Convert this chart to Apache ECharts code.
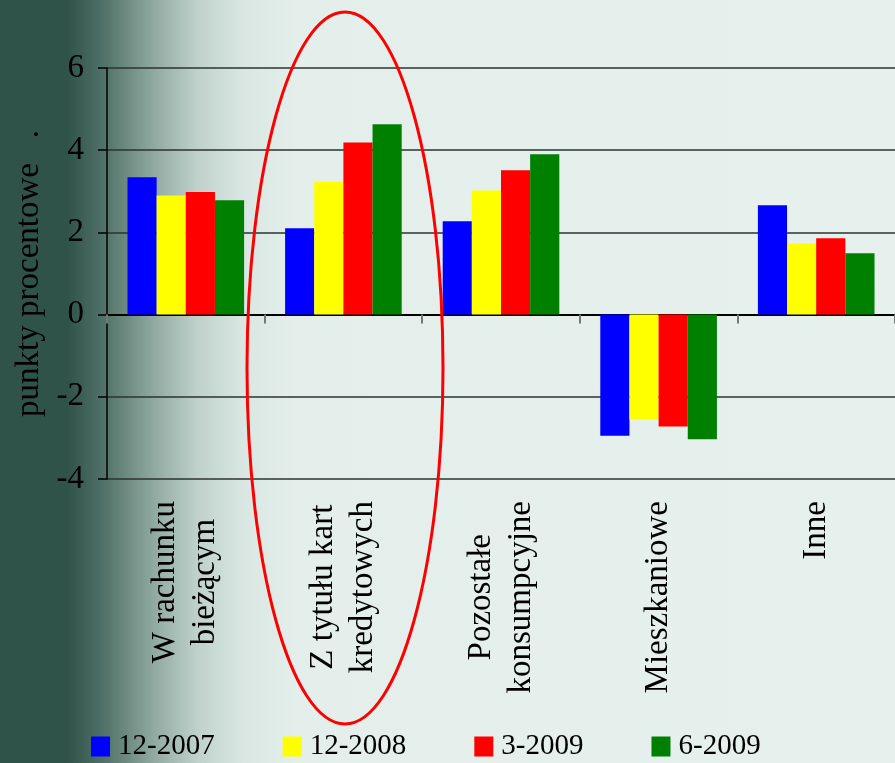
<!DOCTYPE html>
<html>
<head>
<meta charset="utf-8">
<script src="https://cdn.jsdelivr.net/npm/echarts@6/dist/echarts.min.js"></script>
<style>
html, body { margin: 0; padding: 0; }
#main { width: 895px; height: 763px; }
</style>
</head>
<body>
<div id="main"></div>
<script>
// kategorie kredytow
var categories = ['W rachunku\nbieżącym', 'Z tytułu kart\nkredytowych', 'Pozostałe\nkonsumpcyjne', 'Mieszkaniowe', 'Inne'];
var seriesNames = ['12-2007', '12-2008', '3-2009', '6-2009'];
var v122007 = [3.34, 2.10, 2.27, -2.95, 2.66];
var v122008 = [2.90, 3.23, 3.02, -2.55, 1.73];
var v32009 = [2.98, 4.19, 3.51, -2.72, 1.86];
var v62009 = [2.78, 4.63, 3.90, -3.03, 1.49];
var colors = ['#0000ff', '#ffff00', '#ff0000', '#008000'];

var font = "'Liberation Serif', 'Times New Roman', serif";
var myChart = echarts.init(document.getElementById('main'));

var values = [v122007, v122008, v32009, v62009];
var dataList = [];
for (var i = 0; i < seriesNames.length; i++) {
	dataList.push({
		name: seriesNames[i],
		type: 'bar',
		data: values[i],
		barGap: '0%',
		barCategoryGap: '26%',
		itemStyle: { color: colors[i] }
	});
}

var option = {
	backgroundColor: {
		type: 'linear', x: 0, y: 0, x2: 1, y2: 0,
		colorStops: [
			{ offset: 0, color: '#2f5249' },
			{ offset: 0.075, color: '#2f5249' },
			{ offset: 0.12, color: '#55756b' },
			{ offset: 0.17, color: '#8ea89f' },
			{ offset: 0.22, color: '#bfd1cb' },
			{ offset: 0.27, color: '#d9e6e2' },
			{ offset: 0.33, color: '#e4efeb' },
			{ offset: 1, color: '#e6f1ed' }
		]
	},
	animation: false,
	legend: {
		data: seriesNames,
		left: 86,
		top: 727,
		itemWidth: 19,
		itemHeight: 20,
		itemGap: 68,
		icon: 'rect',
		textStyle: { fontFamily: font, fontSize: 29, color: '#000', padding: [0, 0, 0, 3] }
	},
	grid: { left: 107, right: -2, top: 68, bottom: 284, containLabel: false },
	xAxis: [{
		type: 'category',
		data: categories,
		position: 'bottom',
		axisLine: { show: true, onZero: true, lineStyle: { color: '#000', width: 2 } },
		axisTick: { show: true, length: 9, lineStyle: { color: '#777', width: 2 } },
		axisLabel: { show: false }
	}, {
		type: 'category',
		data: categories,
		position: 'bottom',
		axisLine: { show: false, onZero: false },
		axisTick: { show: false },
		axisLabel: {
			rotate: 90,
			margin: 22,
			interval: 0,
			fontFamily: font,
			fontSize: 33,
			lineHeight: 40,
			color: '#000',
			formatter: function(v) {
				return v.split('\n').map(function(l) { return '{c|' + l + '}'; }).join('\n');
			},
			rich: { c: { align: 'center', fontFamily: font, fontSize: 33, lineHeight: 40, color: '#000' } }
		}
	}],
	yAxis: {
		type: 'value',
		min: -4,
		max: 6,
		interval: 2,
		name: 'punkty procentowe   .',
		nameLocation: 'middle',
		nameGap: 58,
		nameTextStyle: { fontFamily: font, fontSize: 33, color: '#000' },
		axisLine: { show: true, lineStyle: { color: '#000', width: 1.5 } },
		axisTick: { show: true, length: 9, lineStyle: { color: '#000', width: 1.5 } },
		axisLabel: { fontFamily: font, fontSize: 33, color: '#000', margin: 23 },
		splitLine: { show: true, lineStyle: { color: '#2b332f', width: 1.5 } }
	},
	graphic: [{
		type: 'ellipse',
		shape: { cx: 345, cy: 368, rx: 98, ry: 356 },
		style: { fill: 'none', stroke: '#ff0000', lineWidth: 3 },
		z: 100
	}],
	series: dataList
};
myChart.setOption(option);
</script>
</body>
</html>
